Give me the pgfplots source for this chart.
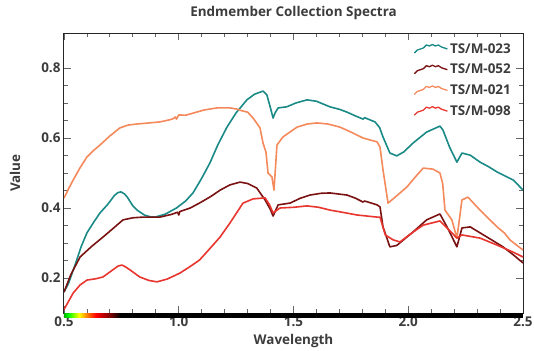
\documentclass[border=0pt]{standalone}
\usepackage{fontspec}
\setmainfont{Open Sans}
\usepackage{pgfplots}
\pgfplotsset{compat=1.18}
\definecolor{cteal}{HTML}{1A8A87}
\definecolor{cdred}{HTML}{7A1212}
\definecolor{corange}{HTML}{F48A5C}
\definecolor{cred}{HTML}{E8352E}
\definecolor{ctext}{HTML}{3C3C3C}
\begin{document}
\begin{tikzpicture}
\path[use as bounding box] (-64bp,-38bp) rectangle (470bp,313bp);
\begin{axis}[
  scale only axis, width=459bp, height=280bp,
  xmin=0.5, xmax=2.5, ymin=0.1, ymax=0.9,
  xtick={0.5,1,1.5,2,2.5}, minor x tick num=4,
  ytick={0.2,0.4,0.6,0.8}, minor y tick num=3,
  /pgf/number format/assume math mode=true,
  xticklabel style={/pgf/number format/.cd, fixed, fixed zerofill, precision=1},
  yticklabel style={/pgf/number format/.cd, fixed, fixed zerofill, precision=1},
  ticklabel style={font=\bfseries\fontsize{13.5}{15}\selectfont, text=ctext},
  tick align=inside, major tick length=7bp, minor tick length=4bp,
  tick style={color=black!60, line width=0.8bp},
  axis line style={line width=1bp, black!85},
  clip mode=individual,
  title={Endmember Collection Spectra},
  title style={font=\bfseries\fontsize{13.5}{15}\selectfont, text=ctext, at={(axis description cs:0.5,1)}, anchor=base, yshift=11bp},
  xlabel={Wavelength}, ylabel={Value},
  xlabel style={font=\bfseries\fontsize{13.5}{16}\selectfont, text=ctext, at={(axis description cs:0.5,0)}, anchor=base, yshift=-31bp},
  ylabel style={font=\bfseries\fontsize{13.5}{16}\selectfont, text=ctext, at={([xshift=-49bp]axis description cs:0,0.5)}, anchor=center},
  legend style={draw=none, fill=none, at={(axis description cs:0.755,0.978)}, anchor=north west,
    font=\bfseries\fontsize{13.5}{15}\selectfont, text=ctext, row sep=5.5bp},
  legend cell align=left,
  legend image code/.code={\draw[#1, line width=1.3bp] (0bp,-4bp) -- (3bp,-1bp) -- (6bp,0bp) -- (9bp,1bp) -- (12bp,4bp) -- (15bp,3bp) -- (18bp,4.5bp) -- (21bp,3bp) -- (24bp,4bp) -- (27bp,2bp) -- (30bp,1bp) -- (33bp,0bp);},
  every axis plot/.append style={line width=1.6bp, line join=round},
]
% colour bar
\fill[left color=green!70!black, right color=green] ([yshift=-4.5bp]axis cs:0.5,0.1) rectangle (axis cs:0.52,0.1);
\fill[left color=green, right color=yellow] ([yshift=-4.5bp]axis cs:0.52,0.1) rectangle (axis cs:0.565,0.1);
\fill[left color=yellow, right color=orange] ([yshift=-4.5bp]axis cs:0.565,0.1) rectangle (axis cs:0.60,0.1);
\fill[left color=orange, right color=red] ([yshift=-4.5bp]axis cs:0.60,0.1) rectangle (axis cs:0.64,0.1);
\fill[left color=red, right color=red!50!black] ([yshift=-4.5bp]axis cs:0.64,0.1) rectangle (axis cs:0.70,0.1);
\fill[left color=red!50!black, right color=black] ([yshift=-4.5bp]axis cs:0.70,0.1) rectangle (axis cs:0.745,0.1);
\fill[black] ([yshift=-4.5bp]axis cs:0.745,0.1) rectangle (axis cs:2.5,0.1);

\addplot[cteal] coordinates {
(0.50,0.160) (0.52,0.185) (0.548,0.237) (0.575,0.290) (0.60,0.329) (0.63,0.360) (0.657,0.386) (0.69,0.410) (0.72,0.436) (0.735,0.444) (0.748,0.446) (0.762,0.441) (0.775,0.432) (0.80,0.406) (0.818,0.394) (0.85,0.380) (0.875,0.375) (0.897,0.374) (0.94,0.382) (0.99,0.400) (1.03,0.420) (1.062,0.443) (1.10,0.485) (1.136,0.529) (1.17,0.580) (1.21,0.631) (1.25,0.672) (1.297,0.709) (1.33,0.725) (1.367,0.734) (1.384,0.723) (1.40,0.685) (1.411,0.657) (1.42,0.672) (1.433,0.686) (1.47,0.689) (1.51,0.700) (1.559,0.709) (1.60,0.705) (1.659,0.689) (1.70,0.682) (1.733,0.674) (1.77,0.663) (1.803,0.654) (1.81,0.658) (1.855,0.646) (1.875,0.630) (1.89,0.603) (1.92,0.557) (1.95,0.549) (1.98,0.560) (2.02,0.585) (2.08,0.617) (2.138,0.634) (2.151,0.623) (2.18,0.574) (2.212,0.531) (2.234,0.557) (2.27,0.551) (2.313,0.531) (2.35,0.518) (2.387,0.503) (2.42,0.492) (2.457,0.480) (2.48,0.465) (2.5,0.451)
};
\addlegendentry{TS/M-023}
\addplot[cdred] coordinates {
(0.50,0.160) (0.53,0.210) (0.57,0.260) (0.62,0.290) (0.67,0.317) (0.72,0.345) (0.757,0.366) (0.80,0.372) (0.844,0.374) (0.918,0.374) (0.97,0.382) (0.995,0.388) (1.0,0.380) (1.005,0.390) (1.05,0.400) (1.09,0.414) (1.14,0.433) (1.18,0.451) (1.223,0.466) (1.267,0.474) (1.30,0.470) (1.34,0.457) (1.376,0.423) (1.40,0.395) (1.411,0.377) (1.433,0.409) (1.485,0.414) (1.53,0.428) (1.572,0.437) (1.62,0.442) (1.659,0.443) (1.733,0.437) (1.77,0.428) (1.803,0.417) (1.81,0.420) (1.864,0.409) (1.877,0.403) (1.89,0.346) (1.92,0.289) (1.95,0.293) (2.02,0.331) (2.08,0.366) (2.138,0.383) (2.169,0.346) (2.212,0.289) (2.234,0.343) (2.27,0.346) (2.343,0.317) (2.413,0.289) (2.46,0.265) (2.5,0.243)
};
\addlegendentry{TS/M-052}
\addplot[corange] coordinates {
(0.50,0.428) (0.52,0.455) (0.54,0.480) (0.57,0.515) (0.60,0.546) (0.63,0.565) (0.657,0.580) (0.70,0.606) (0.744,0.629) (0.78,0.637) (0.818,0.640) (0.87,0.643) (0.918,0.646) (0.96,0.652) (0.975,0.655) (0.985,0.660) (0.99,0.654) (1.0,0.666) (1.03,0.665) (1.062,0.671) (1.11,0.680) (1.167,0.686) (1.223,0.686) (1.25,0.683) (1.28,0.677) (1.30,0.674) (1.324,0.657) (1.354,0.629) (1.367,0.586) (1.38,0.560) (1.389,0.500) (1.406,0.489) (1.415,0.451) (1.428,0.580) (1.454,0.603) (1.515,0.631) (1.56,0.640) (1.602,0.643) (1.65,0.640) (1.703,0.631) (1.75,0.617) (1.803,0.600) (1.83,0.595) (1.864,0.589) (1.877,0.574) (1.89,0.509) (1.912,0.414) (1.95,0.435) (1.994,0.460) (2.03,0.488) (2.065,0.514) (2.108,0.511) (2.138,0.500) (2.15,0.470) (2.16,0.394) (2.19,0.366) (2.212,0.314) (2.234,0.423) (2.26,0.431) (2.313,0.394) (2.35,0.370) (2.387,0.346) (2.42,0.328) (2.443,0.309) (2.47,0.295) (2.5,0.280)
};
\addlegendentry{TS/M-021}
\addplot[cred] coordinates {
(0.50,0.110) (0.54,0.157) (0.57,0.180) (0.60,0.194) (0.64,0.198) (0.67,0.203) (0.71,0.222) (0.735,0.234) (0.753,0.237) (0.77,0.231) (0.79,0.222) (0.83,0.203) (0.87,0.193) (0.905,0.189) (0.95,0.197) (1.005,0.214) (1.05,0.233) (1.09,0.251) (1.13,0.280) (1.18,0.317) (1.223,0.357) (1.28,0.414) (1.324,0.426) (1.376,0.429) (1.395,0.410) (1.411,0.386) (1.441,0.400) (1.50,0.402) (1.559,0.406) (1.61,0.402) (1.659,0.394) (1.72,0.387) (1.777,0.380) (1.864,0.374) (1.877,0.374) (1.90,0.323) (1.934,0.309) (1.964,0.303) (2.01,0.326) (2.065,0.351) (2.138,0.363) (2.169,0.343) (2.212,0.314) (2.234,0.323) (2.313,0.314) (2.387,0.294) (2.457,0.274) (2.5,0.260)
};
\addlegendentry{TS/M-098}
\end{axis}
\end{tikzpicture}
\end{document}
